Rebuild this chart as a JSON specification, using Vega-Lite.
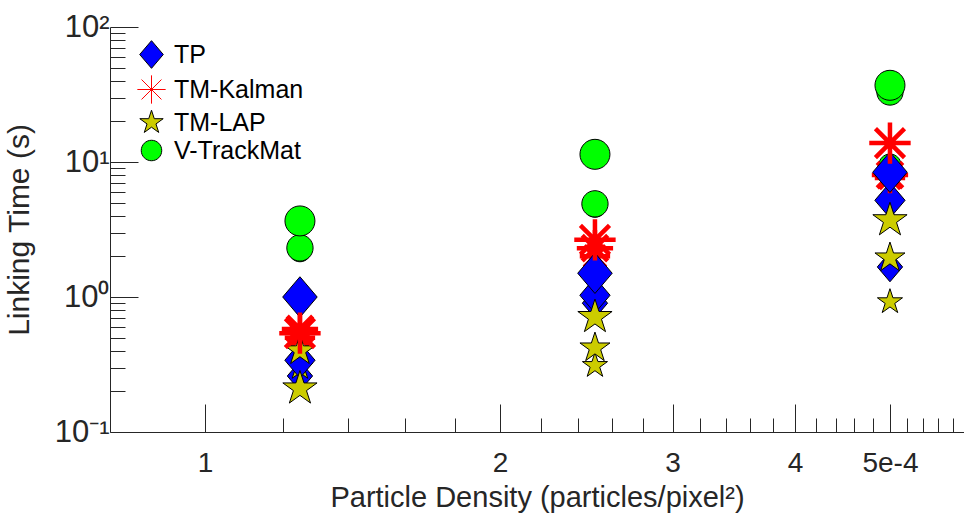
{
  "$schema": "https://vega.github.io/schema/vega-lite/v6.json",
  "width": 854,
  "height": 405,
  "autosize": {"type": "none"},
  "padding": {"left": 110, "top": 27, "right": 0, "bottom": 85},
  "background": "white",
  "config": {"view": {"stroke": null}, "font": "Liberation Sans"},
  "data": {"values": [
    {"density": 1.25, "time": 0.26, "method": "TP", "run": "S"},
    {"density": 1.25, "time": 0.50, "method": "TM-Kalman", "run": "S"},
    {"density": 1.25, "time": 0.30, "method": "TM-LAP", "run": "S"},
    {"density": 1.25, "time": 2.2, "method": "V-TrackMat", "run": "S"},
    {"density": 2.5, "time": 0.9, "method": "TP", "run": "S"},
    {"density": 2.5, "time": 2.0, "method": "TM-Kalman", "run": "S"},
    {"density": 2.5, "time": 0.31, "method": "TM-LAP", "run": "S"},
    {"density": 2.5, "time": 4.7, "method": "V-TrackMat", "run": "S"},
    {"density": 5, "time": 1.67, "method": "TP", "run": "S"},
    {"density": 5, "time": 7.6, "method": "TM-Kalman", "run": "S"},
    {"density": 5, "time": 0.92, "method": "TM-LAP", "run": "S"},
    {"density": 5, "time": 9.5, "method": "V-TrackMat", "run": "S"},
    {"density": 1.25, "time": 0.34, "method": "TP", "run": "M"},
    {"density": 1.25, "time": 0.58, "method": "TM-Kalman", "run": "M"},
    {"density": 1.25, "time": 0.40, "method": "TM-LAP", "run": "M"},
    {"density": 1.25, "time": 2.31, "method": "V-TrackMat", "run": "M"},
    {"density": 2.5, "time": 1.03, "method": "TP", "run": "M"},
    {"density": 2.5, "time": 2.3, "method": "TM-Kalman", "run": "M"},
    {"density": 2.5, "time": 0.42, "method": "TM-LAP", "run": "M"},
    {"density": 2.5, "time": 4.9, "method": "V-TrackMat", "run": "M"},
    {"density": 5, "time": 5.2, "method": "TP", "run": "M"},
    {"density": 5, "time": 8.0, "method": "TM-Kalman", "run": "M"},
    {"density": 5, "time": 1.95, "method": "TM-LAP", "run": "M"},
    {"density": 5, "time": 33, "method": "V-TrackMat", "run": "M"},
    {"density": 1.25, "time": 1.0, "method": "TP", "run": "L"},
    {"density": 1.25, "time": 0.54, "method": "TM-Kalman", "run": "L"},
    {"density": 1.25, "time": 0.21, "method": "TM-LAP", "run": "L"},
    {"density": 1.25, "time": 3.66, "method": "V-TrackMat", "run": "L"},
    {"density": 2.5, "time": 1.5, "method": "TP", "run": "L"},
    {"density": 2.5, "time": 2.65, "method": "TM-Kalman", "run": "L"},
    {"density": 2.5, "time": 0.71, "method": "TM-LAP", "run": "L"},
    {"density": 2.5, "time": 11.4, "method": "V-TrackMat", "run": "L"},
    {"density": 5, "time": 8.4, "method": "TP", "run": "L"},
    {"density": 5, "time": 13.8, "method": "TM-Kalman", "run": "L"},
    {"density": 5, "time": 3.7, "method": "TM-LAP", "run": "L"},
    {"density": 5, "time": 37, "method": "V-TrackMat", "run": "L"}
  ]},
  "mark": {"type": "point", "filled": true, "opacity": 1},
  "encoding": {
    "x": {
      "field": "density", "type": "quantitative",
      "scale": {"type": "log", "domain": [0.8, 5.95], "nice": false},
      "axis": {
        "values": [1, 1.2, 1.4, 1.6, 1.8, 2, 2.2, 2.4, 2.6, 2.8, 3, 3.2, 3.4, 3.6, 3.8, 4, 4.2, 4.4, 4.6, 4.8, 5, 5.2, 5.4, 5.6, 5.8],
        "labelExpr": "datum.value == 5 ? '5e-4' : datum.value == 1 ? '1' : datum.value == 2 ? '2' : datum.value == 3 ? '3' : datum.value == 4 ? '4' : ''",
        "tickSize": {"condition": {"test": "datum.value == 1 || datum.value == 2 || datum.value == 3 || datum.value == 4 || datum.value == 5", "value": -28}, "value": -14},
        "grid": false,
        "domainColor": "#262626", "tickColor": "#262626", "tickWidth": 1, "domainWidth": 1,
        "labelFontSize": 28, "labelColor": "#262626", "labelPadding": 45, "labelFont": "Liberation Sans",
        "labelOverlap": false,
        "title": "Particle Density (particles/pixel²)",
        "titleFontSize": 29, "titleFontWeight": "normal", "titleColor": "#262626", "titlePadding": -8, "titleFont": "Liberation Sans"
      }
    },
    "y": {
      "field": "time", "type": "quantitative",
      "scale": {"type": "log", "domain": [0.1, 100], "nice": false},
      "axis": {
        "values": [0.1, 0.2, 0.3, 0.4, 0.5, 0.6, 0.7, 0.8, 0.9, 1, 2, 3, 4, 5, 6, 7, 8, 9, 10, 20, 30, 40, 50, 60, 70, 80, 90, 100],
        "labelExpr": "datum.value == 0.1 ? '10⁻¹' : datum.value == 1 ? '10⁰' : datum.value == 10 ? '10¹' : datum.value == 100 ? '10²' : ''",
        "tickSize": {"condition": {"test": "datum.value == 0.1 || datum.value == 1 || datum.value == 10 || datum.value == 100", "value": -28}, "value": -15},
        "grid": false,
        "domainColor": "#262626", "tickColor": "#262626", "tickWidth": 1, "domainWidth": 1,
        "labelFontSize": 31, "labelColor": "#262626", "labelPadding": 29, "labelFont": "Liberation Sans",
        "labelOverlap": false,
        "title": "Linking Time (s)",
        "titleFontSize": 30, "titleFontWeight": "normal", "titleColor": "#262626", "titlePadding": 20, "titleFont": "Liberation Sans"
      }
    },
    "shape": {
      "field": "method", "type": "nominal",
      "scale": {
        "domain": ["TP", "TM-Kalman", "TM-LAP", "V-TrackMat"],
        "range": [
          "M0,-1.35L1.15,0L0,1.35L-1.15,0Z",
          "M-1.38,0L1.38,0M0,-1.38L0,1.38M-0.97,-0.97L0.97,0.97M-0.97,0.97L0.97,-0.97",
          "M0,-1.2L0.27,-0.371L1.141,-0.371L0.436,0.142L0.706,0.971L0,0.458L-0.706,0.971L-0.436,0.142L-1.141,-0.371L-0.27,-0.371Z",
          "M1,0A1,1,0,1,1,-1,0A1,1,0,1,1,1,0Z"
        ]
      },
      "legend": {
        "title": null, "orient": "none", "legendX": 29, "legendY": 15,
        "labelFontSize": 25, "labelFont": "Liberation Sans", "labelColor": "#000000",
        "symbolSize": 420, "symbolStrokeWidth": 1, "symbolOpacity": 1,
        "rowPadding": 2, "labelOffset": 10
      }
    },
    "fill": {
      "field": "method", "type": "nominal",
      "scale": {"domain": ["TP", "TM-Kalman", "TM-LAP", "V-TrackMat"], "range": ["#0000ff", "#ff0000", "#cccc00", "#00ff00"]}
    },
    "stroke": {
      "field": "method", "type": "nominal",
      "scale": {"domain": ["TP", "TM-Kalman", "TM-LAP", "V-TrackMat"], "range": ["#000000", "#ff0000", "#000000", "#000000"]}
    },
    "strokeWidth": {
      "condition": {"test": "datum.method == 'TM-Kalman'", "value": 4.5},
      "value": 1
    },
    "size": {
      "field": "run", "type": "ordinal",
      "scale": {"domain": ["S", "M", "L"], "range": [484, 900, 1369]},
      "legend": null
    }
  }
}
